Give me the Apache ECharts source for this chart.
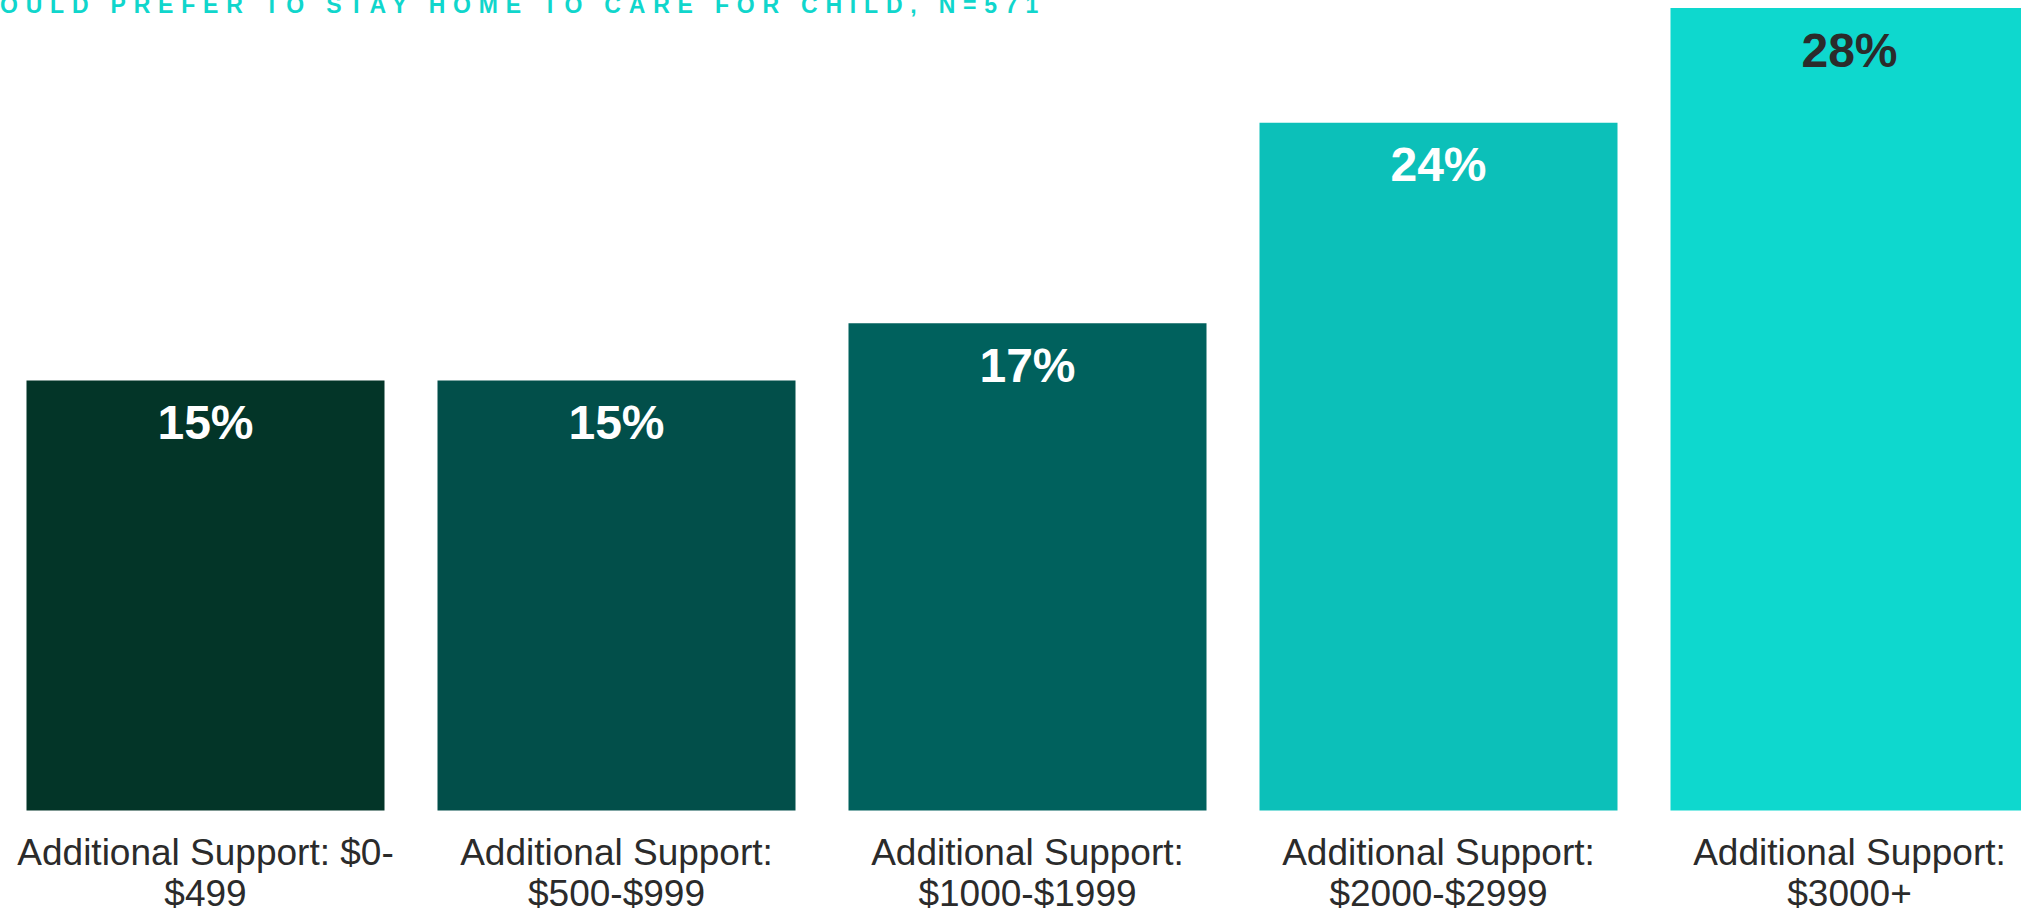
<!DOCTYPE html>
<html>
<head>
<meta charset="utf-8">
<script src="https://cdn.jsdelivr.net/npm/echarts@6/dist/echarts.min.js"></script>
<style>
  html, body { margin: 0; padding: 0; background: #ffffff; overflow: hidden; width: 2021px; height: 914px; }
  #chart { width: 2060px; height: 914px; }
  #chart text[fill="#10d6cc"], #chart text[fill="#10D6CC"] { letter-spacing: 7.8px; }
</style>
</head>
<body>
<div id="chart"></div>
<script>
const titleText = 'OULD PREFER TO STAY HOME TO CARE FOR CHILD, N=571';
const categories = [
  'Additional Support: $0-\n$499',
  'Additional Support:\n$500-$999',
  'Additional Support:\n$1000-$1999',
  'Additional Support:\n$2000-$2999',
  'Additional Support:\n$3000+'
];
const values = [15, 15, 17, 24, 28];
const barColors = ['#033528', '#024f4a', '#00615d', '#0cc0b9', '#0ed8ce'];
const labelColors = ['#ffffff', '#ffffff', '#ffffff', '#ffffff', '#2b2b2b'];

const chart = echarts.init(document.getElementById('chart'), null, { renderer: 'svg' });
chart.setOption({
  backgroundColor: '#ffffff',
  animation: false,
  title: {
    text: titleText,
    left: 0,
    top: -7,
    padding: 0,
    textStyle: {
      color: '#10d6cc',
      fontFamily: "'Liberation Sans', Arial, sans-serif",
      fontWeight: 'bold',
      fontSize: 23
    }
  },
  grid: { left: 0, top: 8, width: 2055, height: 802.5, containLabel: false, outerBoundsMode: 'none' },
  xAxis: {
    type: 'category',
    data: categories,
    axisLine: { show: false },
    axisTick: { show: false },
    axisLabel: {
      interval: 0,
      margin: 21,
      color: '#2b2b2b',
      fontFamily: "'Liberation Sans', Arial, sans-serif",
      fontSize: 37,
      lineHeight: 41,
      align: 'center'
    }
  },
  yAxis: {
    type: 'value',
    min: 0,
    max: 28,
    show: false,
    splitLine: { show: false }
  },
  series: [{
    type: 'bar',
    barWidth: 358,
    data: values.map((v, i) => ({
      value: v,
      itemStyle: { color: barColors[i] },
      label: { color: labelColors[i] }
    })),
    label: {
      show: true,
      position: 'insideTop',
      distance: 18,
      formatter: '{c}%',
      fontFamily: "'Liberation Sans', Arial, sans-serif",
      fontWeight: 'bold',
      fontSize: 48
    }
  }]
});
</script>
</body>
</html>
